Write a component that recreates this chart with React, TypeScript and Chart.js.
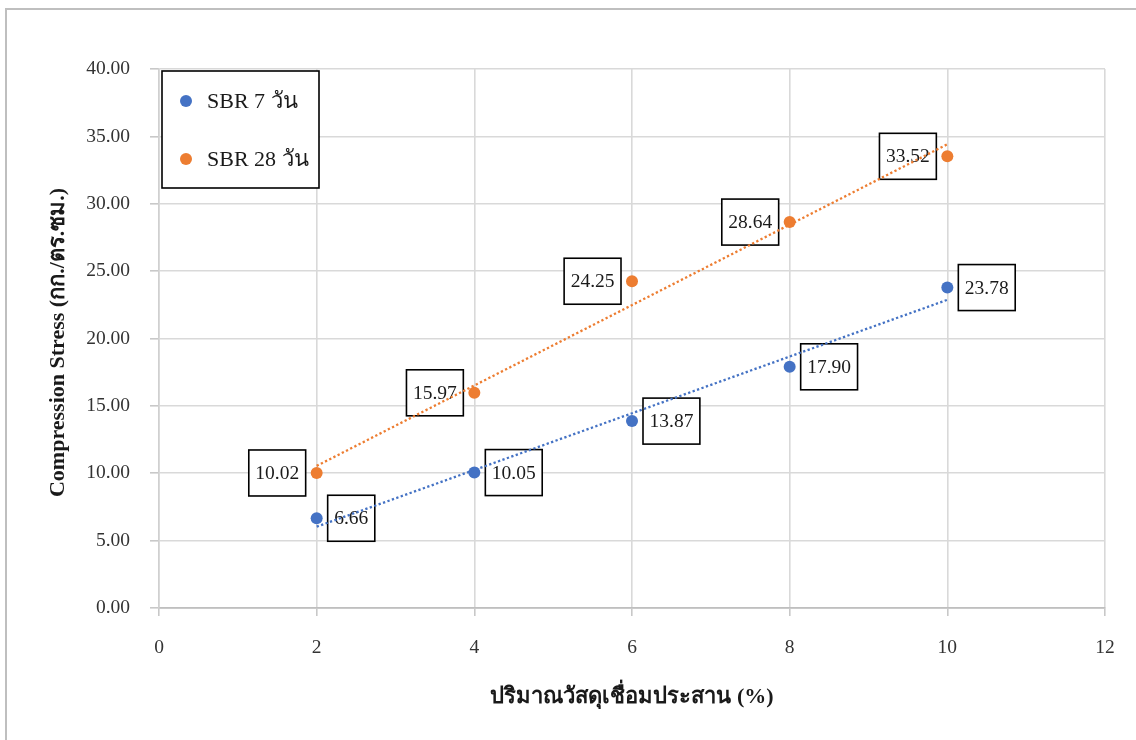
import { useEffect, useRef } from "react";
import { Chart, registerables } from "chart.js";

Chart.register(...registerables);

// Binder content (%) on the x axis
const binderPercent = [2, 4, 6, 8, 10];
// Compression stress (kg/cm²) per curing age
const sbr7Values = [6.66, 10.05, 13.87, 17.9, 23.78];
const sbr28Values = [10.02, 15.97, 24.25, 28.64, 33.52];
const seriesNames = ["SBR 7 วัน", "SBR 28 วัน"];
const seriesColors = ["#4472C4", "#ED7D31"];
// Data-label side per series: 1 = right of point, -1 = left of point
const labelSides = [1, -1];

const xTicks = [0, 2, 4, 6, 8, 10, 12];
const yTicks = [0, 5, 10, 15, 20, 25, 30, 35, 40];
const yTitle = "Compression Stress (กก./ตร.ซม.)";
const xTitle = "ปริมาณวัสดุเชื่อมประสาน (%)";

const SERIF = '"Liberation Serif", "Times New Roman", "DejaVu Serif", serif';

// Least-squares trendline endpoints over the data range
function linearTrend(xs: number[], ys: number[]) {
  const n = xs.length;
  const mx = xs.reduce((a, b) => a + b, 0) / n;
  const my = ys.reduce((a, b) => a + b, 0) / n;
  let sxy = 0;
  let sxx = 0;
  for (let i = 0; i < n; i++) {
    sxy += (xs[i] - mx) * (ys[i] - my);
    sxx += (xs[i] - mx) * (xs[i] - mx);
  }
  const slope = sxy / sxx;
  const icpt = my - slope * mx;
  const x0 = Math.min(...xs);
  const x1 = Math.max(...xs);
  return [
    { x: x0, y: icpt + slope * x0 },
    { x: x1, y: icpt + slope * x1 },
  ];
}

const boxedLabels = {
  id: "boxedLabels",
  beforeDatasetsDraw(chart: any) {
    const ctx = chart.ctx;
    ctx.save();
    ctx.font = `19.5px ${SERIF}`;
    ctx.textBaseline = "middle";
    ctx.textAlign = "center";
    [0, 1].forEach((di) => {
      const meta = chart.getDatasetMeta(di);
      const values = chart.data.datasets[di].data;
      meta.data.forEach((pt: any, i: number) => {
        const text = values[i].y.toFixed(2);
        const w = ctx.measureText(text).width + 13;
        const h = 46;
        const side = labelSides[di];
        const left = side > 0 ? pt.x + 11 : pt.x - 11 - w;
        const top = pt.y - h / 2;
        ctx.fillStyle = "#ffffff";
        ctx.fillRect(left, top, w, h);
        ctx.lineWidth = 1.6;
        ctx.strokeStyle = "#000000";
        ctx.strokeRect(left, top, w, h);
        ctx.fillStyle = "#1a1a1a";
        ctx.fillText(text, left + w / 2, pt.y + 1);
      });
    });
    ctx.restore();
  },
};

const legendAndTitles = {
  id: "legendAndTitles",
  afterDraw(chart: any) {
    const ctx = chart.ctx;
    const area = chart.chartArea;
    ctx.save();

    // outer frame
    ctx.strokeStyle = "#bfbfbf";
    ctx.lineWidth = 2;
    ctx.strokeRect(6, 9, 1300, 900);

    // legend box
    ctx.fillStyle = "#ffffff";
    ctx.fillRect(162, 71, 157, 117);
    ctx.strokeStyle = "#000000";
    ctx.lineWidth = 1.6;
    ctx.strokeRect(162, 71, 157, 117);
    ctx.font = `22px ${SERIF}`;
    ctx.textBaseline = "middle";
    ctx.textAlign = "left";
    seriesNames.forEach((name, i) => {
      const cy = 101 + i * 58;
      ctx.beginPath();
      ctx.arc(186, cy, 6, 0, Math.PI * 2);
      ctx.fillStyle = seriesColors[i];
      ctx.fill();
      ctx.fillStyle = "#1a1a1a";
      ctx.fillText(name, 207, cy + 1);
    });

    // axis titles
    ctx.fillStyle = "#1a1a1a";
    ctx.font = `bold 22px ${SERIF}`;
    ctx.textAlign = "center";
    ctx.textBaseline = "middle";
    ctx.fillText(xTitle, (area.left + area.right) / 2, 697);
    ctx.translate(58, (area.top + area.bottom) / 2 + 4);
    ctx.rotate(-Math.PI / 2);
    ctx.fillText(yTitle, 0, 0);
    ctx.restore();
  },
};

export default function App() {
  const canvasRef = useRef<HTMLCanvasElement | null>(null);

  useEffect(() => {
    if (!canvasRef.current) return;
    const sbr7Points = binderPercent.map((x, i) => ({ x, y: sbr7Values[i] }));
    const sbr28Points = binderPercent.map((x, i) => ({ x, y: sbr28Values[i] }));

    const chart = new Chart(canvasRef.current, {
      type: "scatter",
      data: {
        datasets: [
          {
            label: seriesNames[0],
            data: sbr7Points,
            backgroundColor: seriesColors[0],
            borderColor: seriesColors[0],
            pointRadius: 6,
            pointBorderWidth: 0,
            order: 1,
          },
          {
            label: seriesNames[1],
            data: sbr28Points,
            backgroundColor: seriesColors[1],
            borderColor: seriesColors[1],
            pointRadius: 6,
            pointBorderWidth: 0,
            order: 1,
          },
          {
            type: "line",
            label: "trend7",
            data: linearTrend(binderPercent, sbr7Values),
            borderColor: seriesColors[0],
            borderWidth: 2.3,
            borderDash: [2.3, 2.4],
            pointRadius: 0,
            fill: false,
            order: 0,
          } as any,
          {
            type: "line",
            label: "trend28",
            data: linearTrend(binderPercent, sbr28Values),
            borderColor: seriesColors[1],
            borderWidth: 2.3,
            borderDash: [2.3, 2.4],
            pointRadius: 0,
            fill: false,
            order: 0,
          } as any,
        ],
      },
      options: {
        animation: false,
        responsive: true,
        maintainAspectRatio: false,
        layout: { padding: { left: 0, top: 69, right: 31, bottom: 0 } },
        plugins: {
          legend: { display: false },
          tooltip: { enabled: false },
        },
        scales: {
          x: {
            type: "linear",
            min: 0,
            max: 12,
            afterBuildTicks: (s: any) => {
              s.ticks = xTicks.map((v) => ({ value: v }));
            },
            afterFit: (s: any) => {
              s.height = 132;
            },
            ticks: {
              color: "#333333",
              font: { family: SERIF, size: 19.5 },
              padding: 20,
              maxRotation: 0,
            },
            grid: {
              color: "#d9d9d9",
              lineWidth: 1.6,
              tickLength: 8,
              tickColor: "#c8c8c8",
            },
            border: { color: "#bfbfbf", width: 1.8 },
          },
          y: {
            type: "linear",
            min: 0,
            max: 40,
            afterBuildTicks: (s: any) => {
              s.ticks = yTicks.map((v) => ({ value: v }));
            },
            afterFit: (s: any) => {
              s.width = 159;
            },
            ticks: {
              color: "#333333",
              font: { family: SERIF, size: 19.5 },
              padding: 20,
              callback: (v: any) => Number(v).toFixed(2),
            },
            grid: {
              color: "#d9d9d9",
              lineWidth: 1.6,
              tickLength: 9,
              tickColor: "#c8c8c8",
            },
            border: { color: "#d0d0d0", width: 1.6 },
          },
        },
      },
      plugins: [boxedLabels, legendAndTitles],
    });
    return () => chart.destroy();
  }, []);

  return (
    <div
      style={{
        position: "fixed",
        left: 0,
        top: 0,
        width: 1136,
        height: 740,
        background: "#ffffff",
      }}
    >
      <canvas ref={canvasRef} />
    </div>
  );
}
